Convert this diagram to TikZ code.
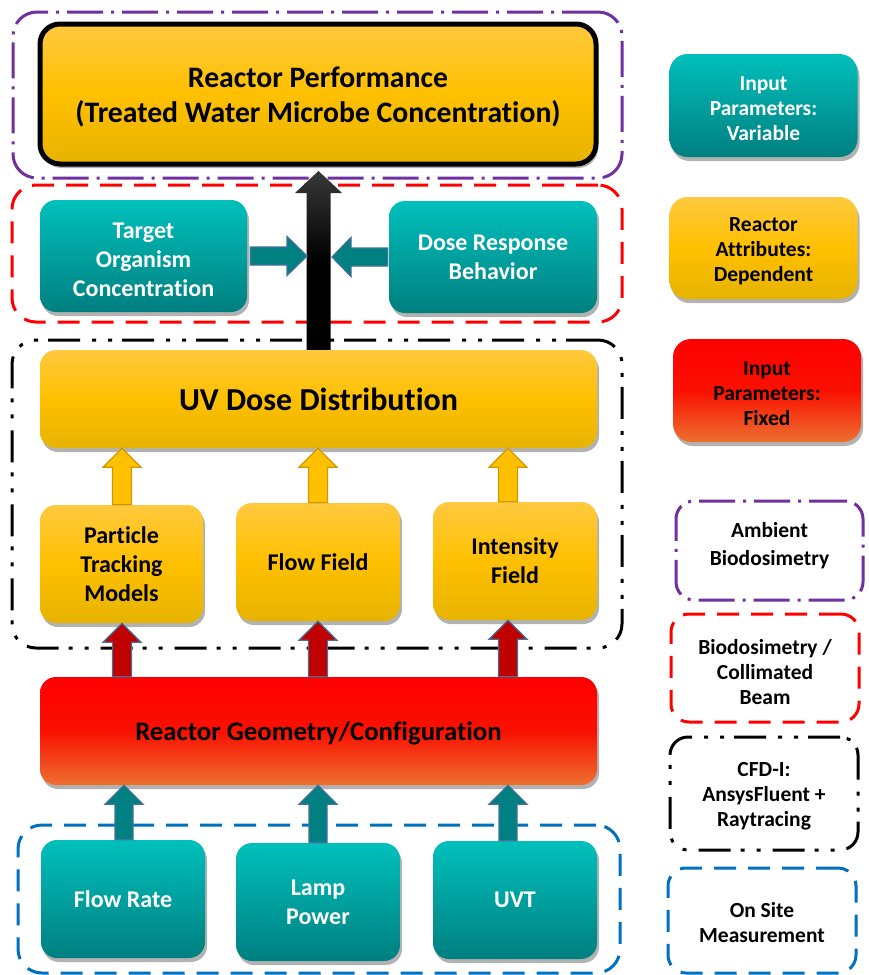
\documentclass[tikz,border=0pt]{standalone}
\usepackage{fontspec}
\setmainfont{Carlito}[Ligatures=NoCommon]
\usetikzlibrary{shadows,calc}
\definecolor{tealT}{HTML}{00C0BB}
\definecolor{tealB}{HTML}{007F80}
\definecolor{orT}{HTML}{FFC93F}
\definecolor{orM}{HTML}{FFC000}
\definecolor{orB}{HTML}{E6B300}
\definecolor{redT}{HTML}{FF0000}
\definecolor{redM}{HTML}{FA1000}
\definecolor{redB}{HTML}{EC7030}
\definecolor{arrTeal}{HTML}{008080}
\definecolor{arrBlue}{HTML}{41719C}
\definecolor{arrGold}{HTML}{FFC000}
\definecolor{arrGoldB}{HTML}{CC9A06}
\definecolor{arrRed}{HTML}{C00000}
\definecolor{frPurple}{HTML}{7030A0}
\definecolor{frRed}{HTML}{FF0000}
\definecolor{frBlue}{HTML}{0070C0}
\newcommand\fsz[2]{\fontsize{#1}{#2}\selectfont\bfseries}
\newcommand\tstrut[1]{\rule{0pt}{#1em}}
\newcommand\bstrut[1]{\rule[-#1em]{0pt}{0pt}}
% vertical block arrow: style, base, tip, shaft half, head half, head length
\newcommand\blockup[6]{%
  \path[#1] let \p1=(#2), \p2=(#3) in
    ({\x1-#4},{\y1}) -- ({\x1-#4},{\y2-#6}) -- ({\x1-#5},{\y2-#6}) -- ({\x1},{\y2})
    -- ({\x1+#5},{\y2-#6}) -- ({\x1+#4},{\y2-#6}) -- ({\x1+#4},{\y1}) -- cycle;}
\newcommand\blockright[6]{%
  \path[#1] let \p1=(#2), \p2=(#3) in
    ({\x1},{\y1+#4}) -- ({\x2-#6},{\y1+#4}) -- ({\x2-#6},{\y1+#5}) -- ({\x2},{\y1})
    -- ({\x2-#6},{\y1-#5}) -- ({\x2-#6},{\y1-#4}) -- ({\x1},{\y1-#4}) -- cycle;}
\newcommand\blockleft[6]{%
  \path[#1] let \p1=(#2), \p2=(#3) in
    ({\x1},{\y1+#4}) -- ({\x2+#6},{\y1+#4}) -- ({\x2+#6},{\y1+#5}) -- ({\x2},{\y1})
    -- ({\x2+#6},{\y1-#5}) -- ({\x2+#6},{\y1-#4}) -- ({\x1},{\y1-#4}) -- cycle;}
\begin{document}
\begin{tikzpicture}[x=1pt,y=-1pt,
  box/.style={rounded corners=16pt, inner sep=0pt, align=center,
    font=\fsz{24}{29},
    drop shadow={shadow xshift=2pt, shadow yshift=-4pt, opacity=0.3, fill=black}},
  tealbox/.style={box, top color=tealT, bottom color=tealB, text=white},
  orbox/.style={box, top color=orT, bottom color=orB, middle color=orM, text=black},
  redbox/.style={box, top color=redT, bottom color=redB, middle color=redM, text=black},
  frame/.style={rounded corners=24pt, line width=3pt, inner sep=0pt, fill=none},
  legend/.style={rounded corners=18pt, line width=3pt, inner sep=0pt, align=center,
    font=\fsz{21.5}{25}, minimum width=188pt},
  pdashdot/.style={draw=frPurple, dash pattern=on 36pt off 8pt on 3pt off 8pt},
  rdash/.style={draw=frRed, dash pattern=on 22pt off 12pt},
  kdashdotdot/.style={draw=black, dash pattern=on 32pt off 10pt on 4pt off 12pt on 4pt off 12pt},
  bdash/.style={draw=frBlue, dash pattern=on 22pt off 12pt},
  tealarrow/.style={fill=arrTeal, draw=arrBlue, line width=1.3pt, line join=miter},
  goldarrow/.style={fill=arrGold, draw=arrGoldB, line width=1.3pt, line join=miter},
  redarrow/.style={fill=arrRed, draw=arrBlue, line width=1.3pt, line join=miter},
  blackarrow/.style={top color=black!78, bottom color=black, middle color=black, draw=none}
]
\useasboundingbox (0,0) rectangle (869,975);
\fill[white] (0,0) rectangle (869,975);

% group frames
\node[frame, pdashdot, minimum width=609pt, minimum height=166pt] (gPurple) at (317.5,95) {};
\node[frame, rdash, minimum width=610pt, minimum height=137pt] (gRed) at (317,253.5) {};
\node[frame, kdashdotdot, minimum width=610pt, minimum height=308pt] (gBlack) at (317,494) {};
\node[frame, bdash, minimum width=602pt, minimum height=148pt] (gBlue) at (319,899) {};

% main boxes
\node[orbox, draw=black, line width=5pt, rounded corners=20pt, minimum width=556pt, minimum height=140pt,
  font=\fsz{29.7}{35}] (perf) at (318,94) {\tstrut{0.92}Reactor Performance\\(Treated Water Microbe Concentration)};
\node[tealbox, minimum width=207pt, minimum height=112pt] (tgt) at (143.5,256) {\tstrut{0.95}Target\\Organism\\Concentration};
\node[tealbox, minimum width=208pt, minimum height=112pt] (dose) at (493,257) {Dose Response\\Behavior};
\node[orbox, minimum width=557pt, minimum height=98pt, font=\fsz{32}{38}] (uv) at (318.5,399) {UV Dose Distribution};
\node[orbox, minimum width=163pt, minimum height=118pt] (ptm) at (121.5,564) {Particle\\Tracking\\Models};
\node[orbox, minimum width=164pt, minimum height=118pt] (ff) at (318,562) {Flow Field};
\node[orbox, minimum width=164pt, minimum height=118pt] (ifd) at (515,561) {Intensity\\Field};
\node[redbox, minimum width=557pt, minimum height=108pt, font=\fsz{26.8}{32}] (geo) at (318.5,731) {\tstrut{0.85}Reactor Geometry/Configuration};
\node[tealbox, minimum width=164pt, minimum height=118pt] (fr) at (123,899) {Flow Rate};
\node[tealbox, minimum width=164pt, minimum height=118pt] (lp) at (318,902) {Lamp\\Power};
\node[tealbox, minimum width=164pt, minimum height=118pt] (uvt) at (515,900) {UVT};

% legend
\node[tealbox, legend, minimum height=103pt] (l1) at (763.5,105.5) {\tstrut{0.92}Input\\Parameters:\\Variable};
\node[orbox, legend, minimum height=102pt] (l2) at (763.5,248) {\tstrut{0.92}Reactor\\Attributes:\\Dependent};
\node[redbox, legend, minimum height=103pt] (l3) at (767,390.5) {\tstrut{0.92}Input\\Parameters:\\Fixed};
\node[legend, pdashdot, minimum width=187pt, minimum height=99pt, font=\fsz{21.5}{28}] (l4) at (769.5,550.5) {Ambient\\Biodosimetry\bstrut{0.6}};
\node[legend, rdash, minimum height=108pt] (l5) at (765,668) {\tstrut{1.05}Biodosimetry /\\Collimated\\Beam};
\node[legend, kdashdotdot, minimum height=113pt] (l6) at (764,793.5) {\tstrut{0.92}CFD-I:\\AnsysFluent +\\Raytracing};
\node[legend, bdash, minimum height=105pt] (l7) at (762,920.5) {\tstrut{0.92}On Site\\Measurement};

% arrow columns
\coordinate (cA) at (122,0);
\coordinate (cB) at (318,0);
\coordinate (cC) at (508,0);
\coordinate (cAb) at (124,0);
\coordinate (jL) at (307,256);
\coordinate (jR) at (332,256);
\coordinate (tipK) at (318.5,171);

% black arrow
\blockup{blackarrow}{uv.north}{tipK}{12pt}{23.5pt}{22pt}
% horizontal teal arrows
\blockright{tealarrow}{[xshift=3pt]tgt.east}{jL}{9pt}{19.5pt}{20pt}
\blockleft{tealarrow}{[xshift=-1pt]dose.west}{jR}{9pt}{19.5pt}{19pt}
% gold arrows
\blockup{goldarrow}{cA |- ptm.north}{cA |- uv.south}{9.5pt}{19pt}{19pt}
\blockup{goldarrow}{cB |- ff.north}{cB |- uv.south}{9.5pt}{19pt}{19pt}
\blockup{goldarrow}{cC |- ifd.north}{cC |- uv.south}{9.5pt}{19pt}{19pt}
% red arrows
\blockup{redarrow}{cA |- geo.north}{cA |- ptm.south}{9.5pt}{19pt}{19pt}
\blockup{redarrow}{cB |- geo.north}{cB |- ff.south}{9.5pt}{19pt}{19pt}
\blockup{redarrow}{cC |- geo.north}{cC |- ifd.south}{9.5pt}{19pt}{19pt}
% teal arrows from inputs
\blockup{tealarrow}{cAb |- fr.north}{cAb |- geo.south}{9pt}{19pt}{19pt}
\blockup{tealarrow}{cB |- lp.north}{cB |- geo.south}{9pt}{19pt}{19pt}
\blockup{tealarrow}{cC |- uvt.north}{cC |- geo.south}{9pt}{19pt}{19pt}
\end{tikzpicture}
\end{document}
